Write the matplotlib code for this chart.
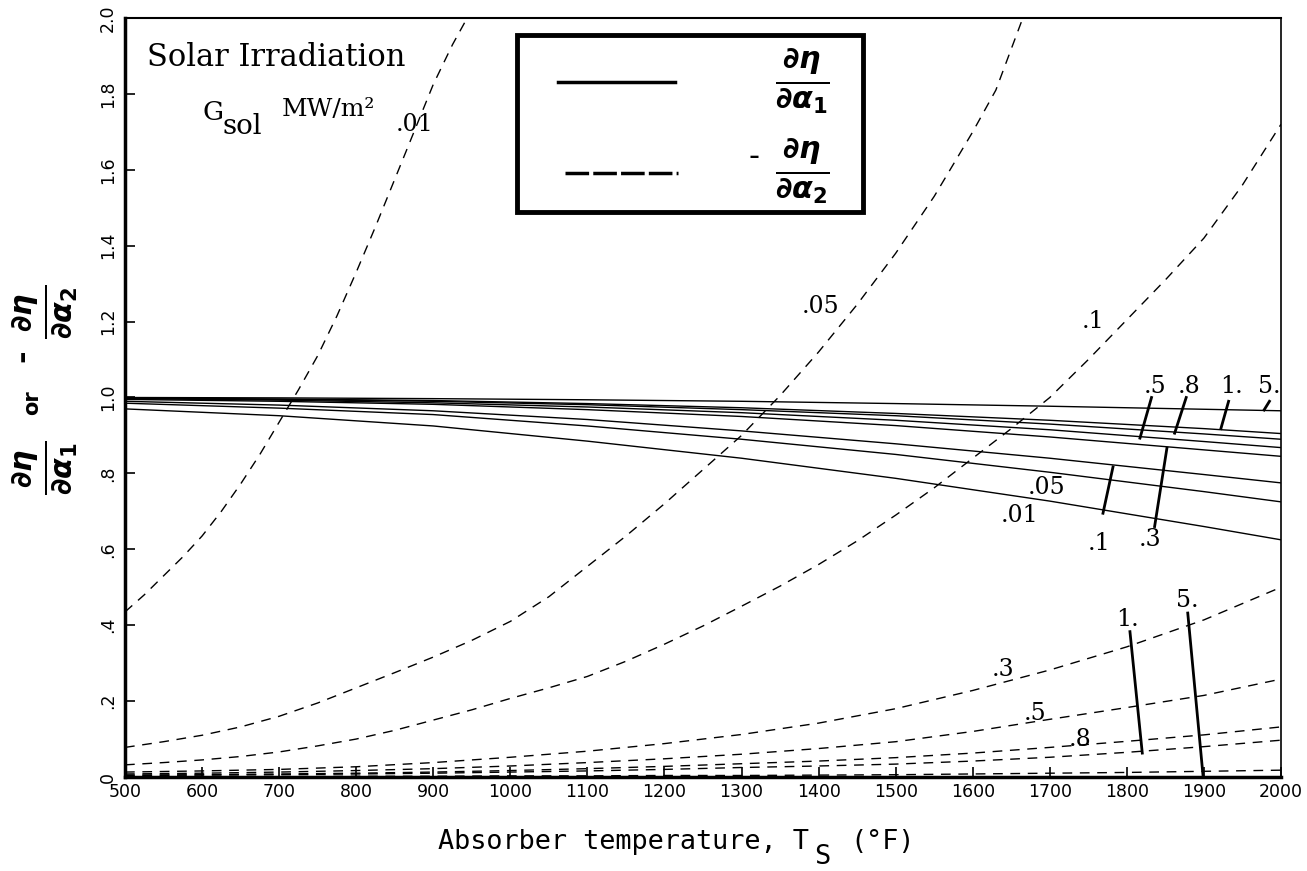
import numpy as np
import matplotlib
matplotlib.use("Agg")
import matplotlib.pyplot as plt
from matplotlib.patches import Rectangle
from matplotlib.lines import Line2D

# ---------------- data ----------------
# solid curves: d(eta)/d(alpha1) vs absorber temperature, one per G_sol
solid_temp = [500, 700, 900, 1100, 1300, 1500, 1700, 1900, 2000]
solid_g001 = [0.970, 0.952, 0.925, 0.885, 0.840, 0.787, 0.727, 0.660, 0.625]
solid_g005 = [0.985, 0.972, 0.955, 0.925, 0.890, 0.850, 0.803, 0.752, 0.725]
solid_g01 = [0.990, 0.980, 0.965, 0.942, 0.912, 0.878, 0.840, 0.797, 0.775]
solid_g03 = [0.995, 0.990, 0.982, 0.968, 0.950, 0.926, 0.896, 0.862, 0.845]
solid_g05 = [0.997, 0.993, 0.986, 0.975, 0.960, 0.940, 0.915, 0.884, 0.868]
solid_g08 = [0.998, 0.995, 0.990, 0.981, 0.968, 0.952, 0.930, 0.904, 0.890]
solid_g1 = [0.999, 0.996, 0.992, 0.984, 0.973, 0.958, 0.940, 0.918, 0.905]
solid_g5 = [1.000, 0.999, 0.997, 0.994, 0.990, 0.984, 0.977, 0.969, 0.965]

# dashed curves: -d(eta)/d(alpha2)
dash_temp_001 = [500, 525, 550, 575, 600, 625, 650, 675, 700, 725, 750, 775, 800,
                 825, 850, 875, 900, 925, 944]
dash_g001 = [0.435, 0.48, 0.53, 0.58, 0.635, 0.70, 0.772, 0.85, 0.935, 1.02, 1.11,
             1.215, 1.33, 1.45, 1.575, 1.70, 1.825, 1.93, 2.0]
dash_temp_005 = [500, 550, 600, 650, 700, 750, 800, 850, 900, 950, 1000, 1050, 1100,
                 1150, 1200, 1250, 1300, 1350, 1400, 1450, 1500, 1550, 1600, 1630, 1665]
dash_g005 = [0.078, 0.093, 0.11, 0.132, 0.16, 0.195, 0.235, 0.275, 0.316, 0.36, 0.41,
             0.475, 0.555, 0.635, 0.72, 0.81, 0.90, 1.005, 1.12, 1.245, 1.38, 1.53,
             1.70, 1.81, 2.0]
dash_temp_01 = [500, 550, 600, 650, 700, 750, 800, 850, 900, 950, 1000, 1050, 1100,
                1150, 1200, 1250, 1300, 1350, 1400, 1450, 1500, 1550, 1600, 1650,
                1700, 1750, 1800, 1850, 1900, 1950, 2000]
dash_g01 = [0.032, 0.038, 0.045, 0.054, 0.066, 0.082, 0.10, 0.123, 0.15, 0.177, 0.207,
            0.235, 0.265, 0.305, 0.35, 0.398, 0.45, 0.503, 0.56, 0.622, 0.69, 0.762,
            0.84, 0.918, 1.0, 1.10, 1.205, 1.31, 1.42, 1.56, 1.72]
dash_temp = [500, 600, 700, 800, 900, 1000, 1100, 1200, 1300, 1400, 1500, 1600, 1700,
             1800, 1900, 2000]
dash_g03 = [0.013, 0.016, 0.020, 0.027, 0.038, 0.052, 0.068, 0.088, 0.112, 0.142, 0.18,
            0.228, 0.282, 0.343, 0.414, 0.50]
dash_g05 = [0.008, 0.010, 0.013, 0.017, 0.022, 0.029, 0.038, 0.048, 0.060, 0.075, 0.093,
            0.12, 0.152, 0.183, 0.215, 0.258]
dash_g08 = [0.005, 0.006, 0.008, 0.010, 0.013, 0.017, 0.022, 0.028, 0.035, 0.042, 0.051,
            0.063, 0.078, 0.094, 0.111, 0.132]
dash_g1 = [0.004, 0.005, 0.006, 0.008, 0.010, 0.013, 0.016, 0.020, 0.025, 0.029, 0.034,
           0.042, 0.052, 0.065, 0.080, 0.097]
dash_g5 = [0.001, 0.001, 0.001, 0.002, 0.002, 0.003, 0.003, 0.004, 0.004, 0.005, 0.006,
           0.008, 0.010, 0.012, 0.015, 0.018]

x_ticks = list(range(500, 2001, 100))
y_ticks = [0, 0.2, 0.4, 0.6, 0.8, 1.0, 1.2, 1.4, 1.6, 1.8, 2.0]
y_ticklabels = ["0", ".2", ".4", ".6", ".8", "1.0", "1.2", "1.4", "1.6", "1.8", "2.0"]

# ---------------- figure ----------------
plt.rcParams["lines.scale_dashes"] = False
plt.rcParams["mathtext.fontset"] = "custom"
plt.rcParams["mathtext.rm"] = "DejaVu Sans:bold"
plt.rcParams["mathtext.it"] = "DejaVu Sans:bold:italic"
plt.rcParams["mathtext.bf"] = "DejaVu Sans:bold"

W, H = 1307, 871
fig = plt.figure(figsize=(W / 100, H / 100), dpi=100)
L, R, T, B = 125, 1281, 18, 777
ax = fig.add_axes([L / W, 1 - B / H, (R - L) / W, (B - T) / H])


def fx(px):
    return px / W


def fy(py):
    return 1 - py / H


lw = 1.0
for ys in [solid_g001, solid_g005, solid_g01, solid_g03, solid_g05, solid_g08, solid_g1, solid_g5]:
    ax.plot(solid_temp, ys, color="black", lw=lw, solid_capstyle="butt")

dash = (7, 5.5)
ax.plot(dash_temp_001, dash_g001, color="black", lw=lw, dashes=dash)
ax.plot(dash_temp_005, dash_g005, color="black", lw=lw, dashes=dash)
ax.plot(dash_temp_01, dash_g01, color="black", lw=lw, dashes=dash)
for ys in [dash_g03, dash_g05, dash_g08, dash_g1, dash_g5]:
    ax.plot(dash_temp, ys, color="black", lw=lw, dashes=dash)

ax.set_xlim(500, 2000)
ax.set_ylim(0, 2.0)
ax.set_xticks(x_ticks)
ax.set_xticklabels([str(v) for v in x_ticks])
ax.set_yticks(y_ticks)
ax.set_yticklabels(y_ticklabels, rotation=90, va="center")
ax.tick_params(direction="in", length=7, width=1.2, labelsize=12.5)
ax.tick_params(axis="x", pad=4)
ax.tick_params(axis="y", pad=6)
ax.spines["left"].set_linewidth(2.5)
ax.spines["bottom"].set_linewidth(2.5)
ax.spines["top"].set_linewidth(1.5)
ax.spines["right"].set_linewidth(1.2)

# ---------------- curve labels ----------------
lab = dict(family="DejaVu Serif", fontsize=17, color="black", ha="center", va="center")
# solid-curve labels
ax.text(1661, 0.69, ".01", **lab)
ax.text(1696, 0.764, ".05", **lab)
ax.text(1764, 0.615, ".1", **lab)
ax.text(1830, 0.625, ".3", **lab)
ax.text(1836, 1.03, ".5", **lab)
ax.text(1881, 1.03, ".8", **lab)
ax.text(1936, 1.03, "1.", **lab)
ax.text(1985, 1.03, "5.", **lab)
ldr = dict(color="black", lw=2.0)
ax.plot([1769, 1782], [0.695, 0.817], **ldr)
ax.plot([1836, 1852], [0.66, 0.867], **ldr)
ax.plot([1832, 1817], [1.0, 0.893], **ldr)
ax.plot([1877, 1862], [1.0, 0.906], **ldr)
ax.plot([1932, 1922], [0.99, 0.918], **ldr)
ax.plot([1985, 1978], [0.99, 0.967], **ldr)
# dashed-curve labels
ax.text(876, 1.72, ".01", **lab)
ax.text(1402, 1.24, ".05", **lab)
ax.text(1756, 1.20, ".1", **lab)
ax.text(1639, 0.282, ".3", **lab)
ax.text(1681, 0.168, ".5", **lab)
ax.text(1739, 0.10, ".8", **lab)
ax.text(1801, 0.414, "1.", **lab)
ax.text(1878, 0.466, "5.", **lab)
ax.plot([1804, 1820], [0.383, 0.063], **ldr)
ax.plot([1879, 1899], [0.432, 0.0], **ldr)

# ---------------- annotation text ----------------
fig.text(fx(147), fy(57), "Solar Irradiation", family="DejaVu Serif", fontsize=22,
         ha="left", va="center")
fig.text(fx(203), fy(112), "G", family="DejaVu Serif", fontsize=19, ha="left", va="center")
fig.text(fx(222), fy(127), "sol", family="DejaVu Serif", fontsize=20, ha="left", va="center")
fig.text(fx(282), fy(110), "MW/m\u00b2", family="DejaVu Serif", fontsize=18, ha="left", va="center")

# ---------------- legend box ----------------
fig.patches.append(Rectangle((fx(517), fy(212)), fx(863) - fx(517), fy(35) - fy(212),
                             transform=fig.transFigure, fill=False, lw=3.5, ec="black"))
fig.lines.append(Line2D([fx(558), fx(675)], [fy(82), fy(82)], transform=fig.transFigure,
                        color="black", lw=2.5))
fig.lines.append(Line2D([fx(565), fx(678)], [fy(173), fy(173)], transform=fig.transFigure,
                        color="black", lw=2.5, dashes=(17, 3)))
fig.text(fx(802), fy(81), r"$\frac{\partial\eta}{\partial\alpha_1}$", fontsize=31,
         ha="center", va="center")
fig.text(fx(754), fy(156), "-", family="DejaVu Sans", fontsize=22, ha="center", va="center")
fig.text(fx(802), fy(171), r"$\frac{\partial\eta}{\partial\alpha_2}$", fontsize=31,
         ha="center", va="center")

# ---------------- axis labels ----------------
fig.text(fx(45), fy(468), r"$\frac{\partial\eta}{\partial\alpha_1}$", fontsize=31,
         rotation=90, ha="center", va="center")
fig.text(fx(32), fy(403), "or", family="DejaVu Sans", fontweight="bold", fontsize=15,
         rotation=90, ha="center", va="center")
fig.text(fx(45), fy(312), r"$\frac{\partial\eta}{\partial\alpha_2}$", fontsize=31,
         rotation=90, ha="center", va="center")
fig.text(fx(23), fy(356), "-", family="DejaVu Sans", fontweight="bold", fontsize=22,
         rotation=90, ha="center", va="center")

fig.text(fx(438), fy(842), "Absorber temperature, T", family="DejaVu Sans Mono", fontsize=19.4,
         ha="left", va="center")
fig.text(fx(814), fy(857), "S", family="DejaVu Sans Mono", fontsize=19.4, ha="left", va="center")
fig.text(fx(850), fy(842), "(\u00b0F)", family="DejaVu Sans Mono", fontsize=19.4,
         ha="left", va="center")

fig.savefig("out.png", dpi=100)
